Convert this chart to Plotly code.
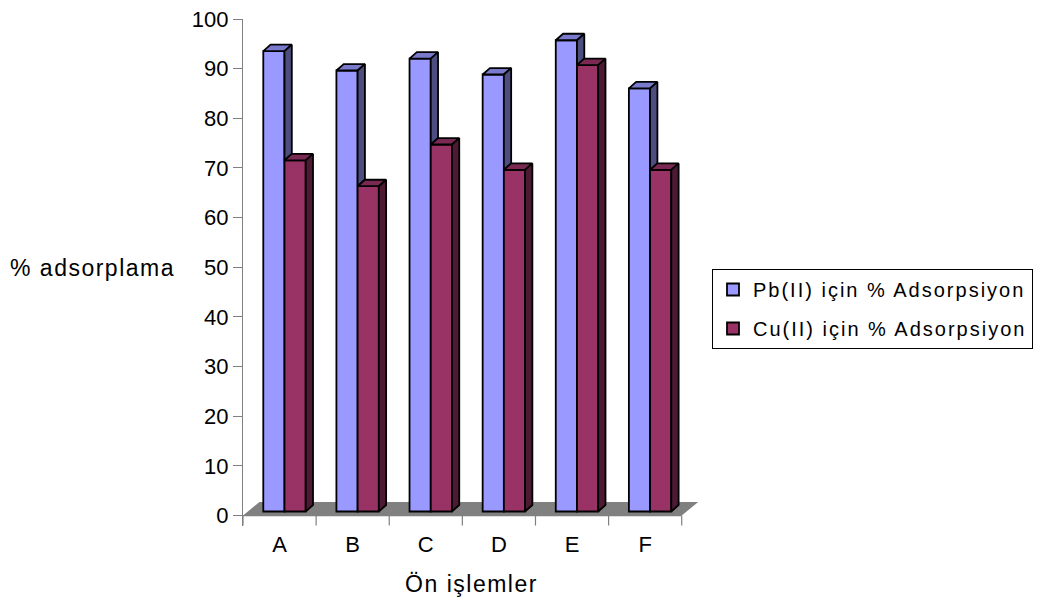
import plotly.graph_objects as go

# Pre-treatment groups and adsorption percentages
categories = ["A", "B", "C", "D", "E", "F"]
pb_values = [92.7, 88.8, 91.2, 88.0, 94.9, 85.2]
cu_values = [70.7, 65.5, 73.9, 68.8, 89.9, 68.8]
y_ticks = list(range(0, 101, 10))

pb_name = "Pb(II) için % Adsorpsiyon"
cu_name = "Cu(II) için % Adsorpsiyon"

# Colours: front face, top face (darker), side face (darkest)
PB_FRONT, PB_TOP, PB_SIDE = "#9999FF", "#7A7ACC", "#4D4D80"
CU_FRONT, CU_TOP, CU_SIDE = "#993366", "#7A2952", "#4D1A33"
FLOOR = "#808080"
AXIS = "#808080"
FONT = "Liberation Sans, Arial, sans-serif"

# Oblique projection: depth direction in axis units
FLOOR_DX, FLOOR_DY = 0.225, 2.75     # full floor depth
FRONT_FRAC = 0.30                     # columns start 30 % into the floor
SHIFT_X, SHIFT_Y = FLOOR_DX * FRONT_FRAC, FLOOR_DY * FRONT_FRAC
BAR_W = 0.29                          # column width (category units)
BAR_DX, BAR_DY = 0.10, 1.30           # column depth

n = len(categories)
xc = [i + SHIFT_X for i in range(n)]
Y_MIN = -2.1

# Figure geometry (pixels)
W, H = 1038, 603
ML, MR, MT, MB = 243, 338, 19, 77
PLOT_W = W - ML - MR
PLOT_H = H - MT - MB


def top_faces(x0s, vals):
    xs, ys = [], []
    for x0, v in zip(x0s, vals):
        t = SHIFT_Y + v
        xs += [x0, x0 + BAR_DX, x0 + BAR_W + BAR_DX, x0 + BAR_W, x0, None]
        ys += [t, t + BAR_DY, t + BAR_DY, t, t, None]
    return xs, ys


def side_faces(x1s, lows, vals):
    xs, ys = [], []
    for x1, lo, v in zip(x1s, lows, vals):
        b = SHIFT_Y + min(lo, v)
        t = SHIFT_Y + v
        xs += [x1, x1 + BAR_DX, x1 + BAR_DX, x1, x1, None]
        ys += [b, b + BAR_DY, t + BAR_DY, t, b, None]
    return xs, ys


def spaced(text, px):
    return f'<span style="letter-spacing:{px}px">{text}</span>'


OUTLINE = dict(color="black", width=1.8)

fig = go.Figure()

# Front faces of the columns
fig.add_trace(go.Bar(
    x=xc, y=pb_values, base=SHIFT_Y, width=BAR_W, offset=-BAR_W,
    name=spaced(pb_name, 2), legendgroup="pb",
    marker=dict(color=PB_FRONT, line=OUTLINE),
))
fig.add_trace(go.Bar(
    x=xc, y=cu_values, base=SHIFT_Y, width=BAR_W, offset=0,
    name=spaced(cu_name, 2), legendgroup="cu",
    marker=dict(color=CU_FRONT, line=OUTLINE),
))

poly = dict(mode="lines", fill="toself", showlegend=False, hoverinfo="skip",
            line=OUTLINE)

pb_x0 = [x - BAR_W for x in xc]
cu_x0 = list(xc)
cu_x1 = [x + BAR_W for x in xc]

# Pb top and the part of its side face showing above the Cu column
tx, ty = top_faces(pb_x0, pb_values)
fig.add_trace(go.Scatter(x=tx, y=ty, fillcolor=PB_TOP, **poly))
sx, sy = side_faces(cu_x0, cu_values, pb_values)
fig.add_trace(go.Scatter(x=sx, y=sy, fillcolor=PB_SIDE, **poly))

# Cu top and side faces
tx, ty = top_faces(cu_x0, cu_values)
fig.add_trace(go.Scatter(x=tx, y=ty, fillcolor=CU_TOP, **poly))
sx, sy = side_faces(cu_x1, [0] * n, cu_values)
fig.add_trace(go.Scatter(x=sx, y=sy, fillcolor=CU_SIDE, **poly))

shapes = []
# Floor of the 3-D plot
x_left, x_right = -0.5, n - 0.5
shapes.append(dict(
    type="path", xref="x", yref="y", layer="below",
    path=(f"M {x_left},0 L {x_right},0 L {x_right + FLOOR_DX},{FLOOR_DY} "
          f"L {x_left + FLOOR_DX},{FLOOR_DY} Z"),
    fillcolor=FLOOR, line=dict(width=0),
))
# Category axis line and boundary ticks
shapes.append(dict(type="line", xref="x", yref="y", x0=x_left, x1=x_right,
                   y0=0, y1=0, line=dict(color=AXIS, width=1.2)))
for k in range(n + 1):
    xb = k - 0.5
    shapes.append(dict(type="line", xref="x", yref="y", x0=xb, x1=xb,
                       y0=0, y1=-2.0, line=dict(color=AXIS, width=1.2)))

fig.update_layout(
    width=W, height=H,
    margin=dict(l=ML, r=MR, t=MT, b=MB, autoexpand=False),
    paper_bgcolor="white", plot_bgcolor="white",
    barmode="overlay",
    font=dict(family=FONT, size=22, color="black"),
    shapes=shapes,
    showlegend=True,
    legend=dict(
        x=(712 - ML) / PLOT_W, y=(H - MB - 269) / PLOT_H,
        xanchor="left", yanchor="top",
        bordercolor="black", borderwidth=1,
        font=dict(family=FONT, size=20, color="black"),
        tracegroupgap=10, traceorder="grouped",
    ),
    xaxis=dict(
        range=[-0.5, n - 0.5 + 0.25],
        tickvals=list(range(n)), ticktext=categories,
        ticks="", showline=False, showgrid=False, zeroline=False,
        tickfont=dict(size=22), ticklabelstandoff=3, automargin=False,
        title=dict(text=spaced("Ön işlemler", 1.5),
                   font=dict(size=23), standoff=19),
    ),
    yaxis=dict(
        range=[Y_MIN, 100], tickvals=y_ticks,
        ticks="outside", ticklen=9, tickcolor=AXIS, tickwidth=1.2,
        showline=True, linecolor=AXIS, linewidth=1.2,
        showgrid=False, zeroline=False, automargin=False,
        tickfont=dict(size=22),
    ),
    annotations=[dict(
        text=spaced("% adsorplama", 1.5),
        xref="paper", yref="paper", x=(8 - ML) / PLOT_W,
        y=(H - MB - 268) / PLOT_H,
        xanchor="left", yanchor="middle", showarrow=False,
        font=dict(size=23),
    )],
)

fig.write_html("out.html")
